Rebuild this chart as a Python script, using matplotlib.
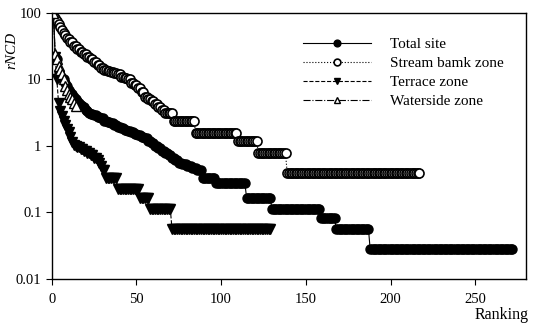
import numpy as np
import matplotlib
matplotlib.use("Agg")
import matplotlib.pyplot as plt

# ---- data (flat runs given as value + run length) ----
total_vals = [100, 22, 20, 13, 11, 10.5, 10, 9, 8, 7, 6.5, 6, 5.5, 5, 4.8, 4.5, 4.2, 4.0, 3.8, 3.5,
              3.3, 3.1, 3.0, 2.9, 2.7, 2.6, 2.4, 2.3, 2.2, 2.1, 1.95, 1.85, 1.75, 1.67, 1.6, 1.5,
              1.45, 1.35, 1.3, 1.2, 1.1, 1.0, 0.92, 0.85, 0.78, 0.72, 0.67, 0.61, 0.56, 0.53, 0.5,
              0.47, 0.44, 0.333, 0.278, 0.167, 0.111, 0.0833, 0.0556, 0.0278]
total_runs = [1, 1, 1, 1, 1, 1, 1, 1, 1, 1, 1, 1, 1, 1, 1, 1, 1, 1, 1, 1,
              1, 1, 2, 2, 2, 2, 2, 2, 2, 2, 2, 2, 2, 2, 2, 2,
              2, 2, 2, 2, 2, 2, 2, 2, 2, 2, 2, 2, 2, 3, 3,
              3, 3, 8, 18, 15, 29, 9, 20, 85]

stream_vals = [100, 85, 75, 68, 62, 55, 50, 46, 42, 40, 36, 32, 29, 26, 24, 22, 20, 18, 16.5, 15,
               14, 13.5, 13, 12.5, 12, 11, 10.5, 10, 9, 8.2, 7.4, 6.5, 5.5, 5, 4.7, 4.3, 3.9, 3.52,
               3.13, 2.34, 1.56, 1.17, 0.78, 0.39]
stream_runs = [1, 1, 1, 1, 1, 1, 1, 1, 1, 1, 2, 2, 2, 2, 2, 2, 2, 2, 2, 2,
               2, 2, 2, 2, 2, 2, 2, 2, 2, 2, 2, 2, 2, 2, 2, 2, 2, 2,
               5, 13, 25, 12, 17, 79]

terrace_vals = [100, 22, 10, 4.4, 3.3, 2.8, 2.4, 2.1, 1.8, 1.6, 1.35, 1.15, 1.05, 1.0, 0.95, 0.9,
                0.83, 0.78, 0.72, 0.67, 0.61, 0.56, 0.5, 0.44, 0.333, 0.222, 0.167, 0.111, 0.0556]
terrace_runs = [1, 1, 1, 1, 1, 1, 1, 1, 1, 1, 1, 1, 1, 1, 2, 2,
                2, 2, 2, 2, 1, 1, 1, 2, 7, 13, 6, 13, 59]

waterside_vals = [100, 24, 20, 16, 14, 12, 10, 8, 7, 6, 5.5, 5, 4.5, 4]

x_ticks = [0, 50, 100, 150, 200, 250]
y_ticks = [0.01, 0.1, 1, 10, 100]
y_ticklabels = ["0.01", "0.1", "1", "10", "100"]

total = np.repeat(total_vals, total_runs)
stream = np.repeat(stream_vals, stream_runs)
terrace = np.repeat(terrace_vals, terrace_runs)
waterside = np.array(waterside_vals)

plt.rcParams['font.family'] = ['Liberation Serif', 'DejaVu Serif']

fig = plt.figure(figsize=(5.34, 3.24), dpi=100)
ax = fig.add_axes([0.097, 0.139, 0.888, 0.821])

ax.plot(np.arange(1, len(total) + 1), total, '-', color='black', lw=0.8,
        marker='o', ms=6.5, mfc='black', mec='black', label='Total site')
ax.plot(np.arange(1, len(stream) + 1), stream, ':', color='black', lw=0.8,
        marker='o', ms=6.5, mfc='white', mec='black', mew=1.2, label='Stream bamk zone')
ax.plot(np.arange(1, len(terrace) + 1), terrace, '--', color='black', lw=0.8,
        marker='v', ms=6.5, mfc='black', mec='black', label='Terrace zone')
ax.plot(np.arange(1, len(waterside) + 1), waterside, '-.', color='black', lw=0.8,
        marker='^', ms=6.5, mfc='white', mec='black', label='Waterside zone')

ax.set_yscale('log')
ax.set_ylim(0.01, 100)
ax.set_xlim(0, 280)
ax.set_yticks(y_ticks)
ax.set_yticklabels(y_ticklabels)
ax.yaxis.set_minor_locator(matplotlib.ticker.NullLocator())
ax.set_xticks(x_ticks)
ax.tick_params(direction='out', length=4, width=0.8, labelsize=10.5)
ax.tick_params(axis='x', pad=6)

for s in ax.spines.values():
    s.set_linewidth(1.0)

ax.set_ylabel('rNCD', fontstyle='italic', fontsize=11)
ax.yaxis.set_label_coords(-0.07, 0.86)
fig.text(0.99, 0.003, 'Ranking', ha='right', va='bottom', fontsize=11.5)

leg = ax.legend(loc='upper left', bbox_to_anchor=(0.5, 0.96), frameon=False,
                fontsize=11, handlelength=4.5, labelspacing=0.35, handletextpad=1.2,
                markerscale=0.75)

fig.savefig('out.png', dpi=100)
